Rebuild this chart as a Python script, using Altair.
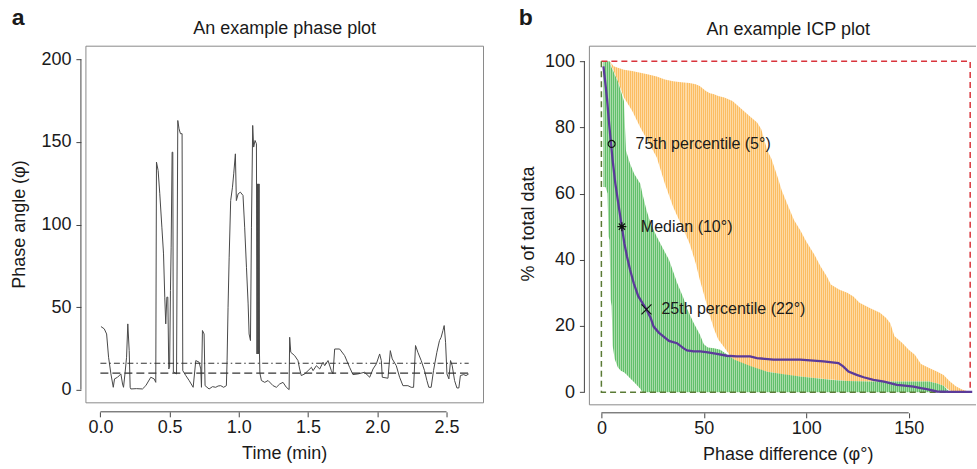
import altair as alt
import pandas as pd

# ---------------- data: panel a (phase plot) ----------------
time_min = [
    0.004, 0.028, 0.045, 0.059, 0.076, 0.093, 0.102, 0.124, 0.148, 0.160,
    0.167, 0.178, 0.189, 0.198, 0.208, 0.215, 0.220, 0.260, 0.304, 0.328,
    0.364, 0.388, 0.400, 0.405, 0.417, 0.429, 0.444, 0.456, 0.465, 0.472,
    0.480, 0.487, 0.494, 0.500, 0.506, 0.511, 0.518, 0.523, 0.527, 0.533,
    0.550, 0.559, 0.568, 0.578, 0.590, 0.595, 0.617, 0.641, 0.670, 0.689,
    0.713, 0.725, 0.730, 0.737, 0.749, 0.756, 0.785, 0.810, 0.833, 0.850,
    0.869, 0.890, 0.910, 0.915, 0.922, 0.930, 0.941, 0.954, 0.963, 0.975,
    0.982, 0.995, 1.011, 1.030, 1.042, 1.055, 1.067, 1.074, 1.084, 1.091,
    1.100, 1.107, 1.117, 1.127, 1.131, 1.134, 1.137, 1.140, 1.143, 1.146,
    1.149, 1.152, 1.163, 1.187, 1.211, 1.247, 1.271, 1.295, 1.319, 1.343,
    1.363, 1.367, 1.375, 1.403, 1.427, 1.439, 1.451, 1.475, 1.500, 1.524,
    1.536, 1.560, 1.584, 1.608, 1.620, 1.644, 1.668, 1.680, 1.692, 1.728,
    1.764, 1.800, 1.824, 1.860, 1.908, 1.945, 1.969, 1.993, 2.017, 2.029,
    2.036, 2.077, 2.094, 2.108, 2.137, 2.161, 2.185, 2.221, 2.245, 2.262,
    2.276, 2.293, 2.317, 2.341, 2.358, 2.372, 2.389, 2.406, 2.430, 2.449,
    2.461, 2.474, 2.483, 2.493, 2.503, 2.517, 2.529, 2.541, 2.558, 2.575,
    2.589, 2.600, 2.623, 2.641, 2.660]
phase_angle = [
    38.2, 36.8, 33.7, 19.6, 9.5, 1.4, 6.5, 7.5, 9.5, 3.4,
    1.4, 10.0, 19.6, 39.8, 23.6, 1.4, 0.4, 0.6, 0.4, 2.4,
    7.5, 6.5, 4.4, 137.8, 132.7, 118.6, 98.4, 82.2, 56.0, 39.8,
    56.0, 56.0, 12.5, 13.5, 60.0, 86.3, 143.8, 143.8, 10.5, 10.5,
    9.5, 163.0, 158.0, 155.0, 155.0, 11.5, 8.5, 5.5, 1.4, 17.6,
    16.6, 12.5, 1.4, 35.8, 33.7, 2.4, 0.4, 1.8, 1.4, 2.2,
    2.4, 1.4, 2.4, 17.6, 49.9, 80.2, 114.5, 122.6, 130.7, 142.8,
    114.5, 118.6, 119.6, 117.6, 98.4, 74.1, 51.9, 33.7, 29.7, 98.4,
    160.0, 146.9, 150.9, 148.9, 21.6, 124.6, 21.6, 124.6, 21.6, 124.6,
    21.6, 10.0, 5.5, 4.4, 5.5, 2.4, 1.4, 3.4, 4.4, 1.4,
    0.0, 31.7, 22.6, 20.6, 17.6, 12.5, 8.5, 9.5, 11.5, 13.5,
    11.5, 14.5, 12.5, 16.6, 14.5, 17.6, 11.5, 9.5, 24.6, 24.6,
    20.6, 13.5, 9.1, 9.5, 10.5, 7.5, 12.5, 15.6, 21.6, 17.6,
    7.5, 6.9, 23.6, 18.6, 14.5, 7.5, 2.4, 2.4, 1.4, 1.4,
    26.7, 22.6, 17.6, 11.5, 5.5, 1.4, 1.4, 11.5, 22.6, 29.7,
    31.7, 35.8, 38.8, 28.7, 9.5, 6.5, 17.6, 14.5, 5.5, 1.0,
    1.0, 8.5, 9.1, 8.5, 9.5]
threshold_dotdash = 16
threshold_dashed = 10
threshold_span = [0, 2.66]
a_xticks = [0, 0.5, 1.0, 1.5, 2.0, 2.5]
a_yticks = [0, 50, 100, 150, 200]

# ---------------- data: panel b (ICP plot) ----------------
orange_x = [4, 6, 8, 11, 15, 19, 23, 27, 31, 35, 39, 43, 46, 48, 51, 53, 55, 57, 60, 64,
            68, 72, 76, 78, 81, 83, 86, 88, 91, 94, 97, 100, 104, 107, 110, 112, 116, 120, 123, 126,
            131, 136, 139, 141, 143, 147, 150, 153, 156, 160, 164, 167, 170, 173, 176, 179]
orange_hi = [100, 98.5, 98, 97.4, 97, 96.5, 96, 95.4, 94.5, 93.9, 93.6, 93.4, 93, 92.5, 91, 90.3, 90, 89.5, 89, 88,
             85.8, 83.6, 81.5, 79.5, 73, 70.5, 65, 61, 56.5, 52, 49, 45.5, 41.5, 38, 35, 32.5, 31, 30, 28.9, 27,
             25.4, 24, 22.4, 20.8, 17, 14.8, 12.8, 11.3, 8.5, 7.3, 6.2, 5.2, 3.3, 1.8, 0.8, 0.2]
orange_lo = [100, 97, 94, 89, 85, 80, 75.5, 71, 63, 56, 50.5, 45, 39, 34, 27.5, 23, 19, 16, 13.5, 10,
             8.8, 7.8, 7, 6.6, 6.2, 6, 5.6, 5.4, 5.1, 4.9, 4.7, 4.5, 4.3, 4.1, 3.9, 3.8, 3.6, 3.4, 3.3, 3.2,
             3.2, 3.2, 3.2, 3.2, 3.2, 3.2, 3.2, 3.2, 3.2, 3.2, 2.6, 1.9, 0.5, 0, 0, 0]
green_x = [1, 2, 3, 3.5, 4, 4.5, 5, 5.5, 6.5, 8, 9.5, 11, 12, 14, 16, 19, 20, 22, 24, 27,
           30, 33, 37, 40, 42, 45, 48, 50, 52, 55, 58, 61, 65, 69, 73, 77, 81, 89, 97, 105,
           113, 120, 130, 140, 150, 160, 164, 167, 170]
green_hi = [100, 100, 100, 100, 100, 99, 98, 97.5, 96, 94, 91, 88, 73, 69, 66, 63, 60, 55, 51, 47,
            43.5, 40, 33, 28.5, 25, 21, 17.5, 14.5, 13.5, 13.3, 12.8, 11.5, 9.8, 8.8, 7.8, 7, 6.2, 5.4, 4.7, 4.2,
            3.7, 3.4, 3.2, 3.2, 3.2, 3.2, 2.6, 1.9, 0]
green_lo = [62, 62, 60, 47, 46, 28, 26, 14, 10, 7.5, 6.5, 6, 5.5, 4.2, 3, 1, 0, 0, 0, 0,
            0, 0, 0, 0, 0, 0, 0, 0, 0, 0, 0, 0, 0, 0, 0, 0, 0, 0, 0, 0,
            0, 0, 0, 0, 0, 0, 0, 0, 0]
icp_x = [1, 2, 2.8, 3.8, 4.7, 5.5, 6.8, 8.5, 10, 11.2, 12.5, 14, 15.8, 18, 20, 22, 24, 25.5, 28, 30.4,
         33, 36.9, 40, 41.8, 45, 48.3, 52, 56.4, 61.2, 66, 72.6, 75.9, 84, 97, 108.4, 115.7, 118, 120.6, 124.6, 128,
         132.8, 138, 144.2, 148, 152.3, 156, 158.8, 163.7, 170, 181]
icp_y = [98.4, 93, 88.3, 81, 75.2, 70, 63.1, 56, 50, 45, 41, 37, 32.9, 29, 27, 25, 22.5, 19.8, 18, 16.8,
         15.5, 14.8, 13.3, 12.6, 12.3, 12.3, 12, 11.6, 11, 10.8, 10.8, 10.3, 9.8, 9.8, 9.3, 8.8, 7.8, 6.2, 5.2, 4.5,
         3.7, 3.2, 2.2, 2.0, 1.7, 1.2, 0.9, 0.2, 0.1, 0.1]
pct_x = [5, 10, 22]
pct_y = [75, 50, 25]
pct_labels = ["75th percentile (5°)", "Median (10°)", "25th percentile (22°)"]
red_box_x = [0, 180, 180]
red_box_y = [100, 100, 0]
green_box_x = [0, 0, 180]
green_box_y = [100, 0, 0]
b_xticks = [0, 50, 100, 150]
b_yticks = [0, 20, 40, 60, 80, 100]

# ---------------- helpers ----------------
FONT = "Liberation Sans"
TXT = "#1a1a1a"
FRAME = "#8a8a8a"
AXC = "#444444"
ONE = pd.DataFrame({"k": [0]})


def ptext(txt, x, y, size=18, weight="normal", angle=0, align="center"):
    kw = dict(text=txt, font=FONT, fontSize=size, fontWeight=weight,
              align=align, baseline="alphabetic", color=TXT)
    if angle:
        kw["angle"] = angle
    return alt.Chart(ONE).mark_text(**kw).encode(x=alt.value(x), y=alt.value(y))


def hrule(x0, x1, y, color, width=1):
    return alt.Chart(ONE).mark_rule(color=color, strokeWidth=width).encode(
        x=alt.value(x0), x2=alt.value(x1), y=alt.value(y))


def vrule(x, y0, y1, color, width=1):
    return alt.Chart(ONE).mark_rule(color=color, strokeWidth=width).encode(
        x=alt.value(x), y=alt.value(y0), y2=alt.value(y1))


def hatch(width_px, light, dark):
    """Fine vertical hatching with a 2-pixel period across the mark's bounding box."""
    p = 2.0 / width_px
    n = int(width_px / 2.0) + 1
    stops = []
    for j in range(n):
        s = min(1.0, j * p)
        m = min(1.0, j * p + p / 2)
        e = min(1.0, (j + 1) * p)
        stops += [alt.GradientStop(color=dark, offset=s),
                  alt.GradientStop(color=dark, offset=m),
                  alt.GradientStop(color=light, offset=m),
                  alt.GradientStop(color=light, offset=e)]
    return alt.LinearGradient(gradient="linear", stops=stops, x1=0, x2=1, y1=0, y2=0)


# ---------------- panel a ----------------
WA, HA = 398, 357
sxa = alt.Scale(domain=[-0.1046, 2.767], nice=False, zero=False)
sya = alt.Scale(domain=[-8, 208], nice=False, zero=False)
axa_x = alt.Axis(values=a_xticks, format=".1f", offset=9, tickSize=5, labelPadding=2,
                 labelFlush=False, labelOverlap=False)
axa_y = alt.Axis(values=a_yticks, offset=5, tickSize=5, labelPadding=5,
                 labelFlush=False, labelOverlap=False)


def XA(f):
    return alt.X(f, type="quantitative", scale=sxa, axis=axa_x, title=None)


def YA(f):
    return alt.Y(f, type="quantitative", scale=sya, axis=axa_y, title=None)


df_a = pd.DataFrame({"t": time_min, "phi": phase_angle})
df_thr = pd.DataFrame({"tx0": [threshold_span[0]], "tx1": [threshold_span[1]],
                       "dd": [threshold_dotdash], "da": [threshold_dashed]})
df_axa = pd.DataFrame({"ax0": [a_xticks[0]], "ax1": [a_xticks[-1]],
                       "ay0": [a_yticks[0]], "ay1": [a_yticks[-1]]})

line_a = alt.Chart(df_a).mark_line(color="#484848", strokeWidth=1).encode(x=XA("t"), y=YA("phi"))
dotdash = alt.Chart(df_thr).mark_rule(color="#333333", strokeWidth=1.1, strokeDash=[6, 3, 1.5, 3]).encode(
    x=XA("tx0"), x2="tx1", y=YA("dd"))
dashed = alt.Chart(df_thr).mark_rule(color="#333333", strokeWidth=1.1, strokeDash=[8, 4]).encode(
    x=XA("tx0"), x2="tx1", y=YA("da"))
xline_a = alt.Chart(df_axa).mark_rule(color=AXC, strokeWidth=1).encode(
    x=XA("ax0"), x2="ax1", y=alt.value(HA + 9))
yline_a = alt.Chart(df_axa).mark_rule(color=AXC, strokeWidth=1).encode(
    y=YA("ay0"), y2="ay1", x=alt.value(-5))

panel_a = alt.layer(
    line_a, dotdash, dashed, xline_a, yline_a,
    hrule(0, WA, 0, FRAME), hrule(0, WA, HA, FRAME), vrule(0, 0, HA, FRAME), vrule(WA, 0, HA, FRAME),
    ptext("An example phase plot", WA / 2, -12.7),
    ptext("a", -74.3, -21, size=23, weight="bold", align="left"),
    ptext("Time (min)", WA / 2, 413.3),
    ptext("Phase angle (φ)", -61.4, HA / 2, angle=270),
    vrule(-85.5, 0, 1, "white"), hrule(0, 1, -45.5, "white"), hrule(0, 1, 422.5, "white"),
).properties(width=WA, height=HA)

# ---------------- panel b ----------------
WB, HB = 388, 359
XB_DOM = [-5.85, 183.33]
sxb = alt.Scale(domain=XB_DOM, nice=False, zero=False)
syb = alt.Scale(domain=[-3.83, 104.53], nice=False, zero=False)
axb_x = alt.Axis(values=b_xticks, offset=8, tickSize=5, labelPadding=2,
                 labelFlush=False, labelOverlap=False)
axb_y = alt.Axis(values=b_yticks, offset=5, tickSize=5, labelPadding=5,
                 labelFlush=False, labelOverlap=False)
PXU = WB / (XB_DOM[1] - XB_DOM[0])  # pixels per degree


def XB(f):
    return alt.X(f, type="quantitative", scale=sxb, axis=axb_x, title=None)


def YB(f):
    return alt.Y(f, type="quantitative", scale=syb, axis=axb_y, title=None)


df_or = pd.DataFrame({"ox": orange_x, "ohi": orange_hi, "olo": orange_lo})
df_gr = pd.DataFrame({"gx": green_x, "ghi": green_hi, "glo": green_lo})
df_icp = pd.DataFrame({"ix": icp_x, "iy": icp_y})
df_red = pd.DataFrame({"rx": red_box_x, "ry": red_box_y, "o": list(range(len(red_box_x)))})
df_grn = pd.DataFrame({"qx": green_box_x, "qy": green_box_y, "o": list(range(len(green_box_x)))})
df_axb = pd.DataFrame({"bx0": [b_xticks[0]], "bx1": [b_xticks[-1]],
                       "by0": [b_yticks[0]], "by1": [b_yticks[-1]]})

grad_orange = hatch((orange_x[-1] - orange_x[0]) * PXU, "#fedaa4", "#fbbd62")
grad_green = hatch((green_x[-1] - green_x[0]) * PXU, "#a9dcaa", "#62c06a")

orange_area = alt.Chart(df_or).mark_area(color=grad_orange).encode(
    x=XB("ox"), y=YB("ohi"), y2="olo")
green_area = alt.Chart(df_gr).mark_area(color=grad_green).encode(
    x=XB("gx"), y=YB("ghi"), y2="glo")
red_box = alt.Chart(df_red).mark_line(color="#d9343c", strokeWidth=1.5, strokeDash=[6, 4]).encode(
    x=XB("rx"), y=YB("ry"), order="o:Q")
green_box = alt.Chart(df_grn).mark_line(color="#5a7a35", strokeWidth=1.5, strokeDash=[6, 4]).encode(
    x=XB("qx"), y=YB("qy"), order="o:Q")
icp_line = alt.Chart(df_icp).mark_line(color="#5b3a9a", strokeWidth=2.3).encode(x=XB("ix"), y=YB("iy"))

shapes = ["circle", "M0,-1L0,1M-1,0L1,0M-0.7,-0.7L0.7,0.7M-0.7,0.7L0.7,-0.7", "M-1,-1L1,1M-1,1L1,-1"]
sizes = [48, 80, 100]
label_dx = [24, 19, 15]
marker_layers = []
for i in range(3):
    dfi = pd.DataFrame({"mx": [pct_x[i]], "my": [pct_y[i]]})
    marker_layers.append(
        alt.Chart(dfi).mark_point(shape=shapes[i], filled=False, size=sizes[i], color="#111111",
                                  strokeWidth=1.2, opacity=1).encode(x=XB("mx"), y=YB("my")))
    marker_layers.append(
        alt.Chart(dfi).mark_text(text=pct_labels[i], font=FONT, fontSize=16, align="left",
                                 baseline="middle", color=TXT, dx=label_dx[i]).encode(
            x=XB("mx"), y=YB("my")))

xline_b = alt.Chart(df_axb).mark_rule(color=AXC, strokeWidth=1).encode(
    x=XB("bx0"), x2="bx1", y=alt.value(HB + 8))
yline_b = alt.Chart(df_axb).mark_rule(color=AXC, strokeWidth=1).encode(
    y=YB("by0"), y2="by1", x=alt.value(-5))

panel_b = alt.layer(
    orange_area, green_area, red_box, green_box, icp_line, *marker_layers, xline_b, yline_b,
    hrule(0, WB - 1, 0, FRAME), hrule(0, WB - 1, HB, FRAME), vrule(0, 0, HB, FRAME),
    ptext("An example ICP plot", 199, -11.7),
    ptext("b", -70.7, -21, size=23, weight="bold", align="left"),
    ptext("Phase difference (φ°)", 199, 414),
    ptext("% of total data", -55.7, 178, angle=270),
    vrule(-104, 0, 1, "white"), hrule(0, 1, -45.5, "white"), hrule(0, 1, 422.5, "white"),
).properties(width=WB, height=HB)

chart = alt.hconcat(panel_a, panel_b, spacing=0).resolve_scale(
    x="independent", y="independent"
).properties(padding=0).configure_view(stroke=None).configure_axis(
    labelFont=FONT, labelFontSize=18, labelColor=TXT, tickColor=AXC, tickWidth=1,
    grid=False, domain=False
)

chart.save("out.html", embed_options={"renderer": "svg", "actions": False})
